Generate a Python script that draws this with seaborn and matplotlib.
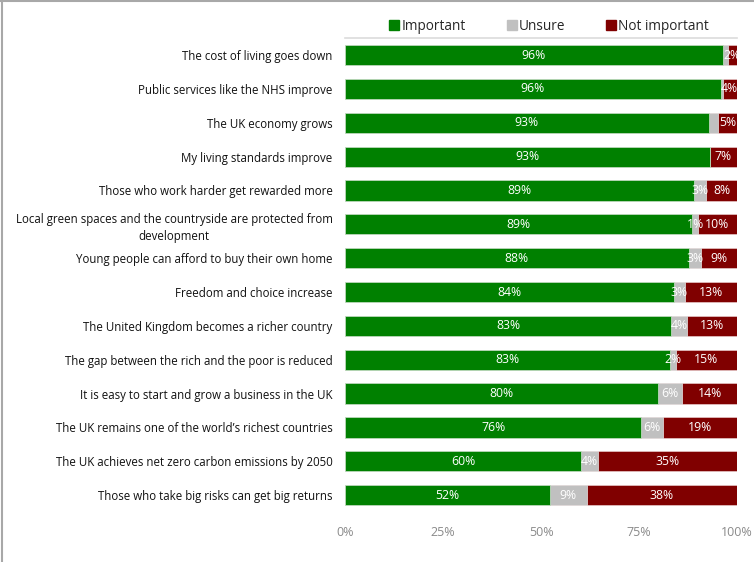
import matplotlib
matplotlib.use("Agg")
import matplotlib.pyplot as plt
from matplotlib.lines import Line2D
import seaborn as sns
import pandas as pd

statements = [
    "The cost of living goes down",
    "Public services like the NHS improve",
    "The UK economy grows",
    "My living standards improve",
    "Those who work harder get rewarded more",
    "Local green spaces and the countryside are protected from\ndevelopment",
    "Young people can afford to buy their own home",
    "Freedom and choice increase",
    "The United Kingdom becomes a richer country",
    "The gap between the rich and the poor is reduced",
    "It is easy to start and grow a business in the UK",
    "The UK remains one of the world\u2019s richest countries",
    "The UK achieves net zero carbon emissions by 2050",
    "Those who take big risks can get big returns",
]
important = [96.3, 95.8, 92.8, 93.0, 89.0, 88.6, 87.7, 84.0, 83.2, 82.8, 79.9, 75.6, 60.2, 52.3]
unsure = [1.3, 0.5, 2.4, 0.0, 3.1, 1.4, 3.0, 2.6, 4.0, 1.7, 6.1, 5.6, 4.3, 9.3]
not_important = [2.4, 3.7, 4.8, 7.0, 7.9, 10.0, 9.3, 13.4, 12.8, 15.4, 14.0, 18.8, 35.4, 38.4]
# rows whose "Unsure" segment carries no value label
unsure_unlabelled = [0, 1, 2, 3]

tick_values = [0, 25, 50, 75, 100]
series = ["Important", "Unsure", "Not important"]
colors = {"Important": "#008000", "Unsure": "#c0c0c0", "Not important": "#800000"}

df = pd.DataFrame({
    "statement": statements,
    "Important": important,
    "Unsure": unsure,
    "Not important": not_important,
})
df["imp_uns"] = df["Important"] + df["Unsure"]
df["total"] = df["imp_uns"] + df["Not important"]

sns.set_theme(style="white")
plt.rcParams["font.family"] = ["Open Sans", "DejaVu Sans"]

fig = plt.figure(figsize=(7.54, 5.62), dpi=100)
ax = fig.add_axes([0.4576, 0.089, 0.5199, 0.843])

# stacked bars: draw cumulative totals back to front
bw = 0.6
sns.barplot(data=df, y="statement", x="total", color=colors["Not important"],
            orient="h", width=bw, ax=ax, saturation=1, edgecolor="#e6c8c8", linewidth=0.5)
sns.barplot(data=df, y="statement", x="imp_uns", color=colors["Unsure"],
            orient="h", width=bw, ax=ax, saturation=1, edgecolor="#e8e8e8", linewidth=0.5)
sns.barplot(data=df, y="statement", x="Important", color=colors["Important"],
            orient="h", width=bw, ax=ax, saturation=1, edgecolor="#cfe5cf", linewidth=0.5)

lab_kw = dict(color="white", fontsize=8.8, ha="center", va="center")
for i, row in df.iterrows():
    ax.text(row["Important"] / 2, i, f"{row['Important']:.0f}%", **lab_kw)
    if i not in unsure_unlabelled and row["Unsure"] > 0:
        ax.text(row["Important"] + row["Unsure"] / 2, i, f"{row['Unsure']:.0f}%", **lab_kw)
    ax.text(row["imp_uns"] + row["Not important"] / 2, i, f"{row['Not important']:.0f}%", **lab_kw)

ax.set_xlim(0, 100)
ax.set_ylim(len(statements) - 0.5, -0.5)
ax.set_xticks(tick_values)
ax.set_xticklabels([f"{v}%" for v in tick_values], color="#8a8a8a", fontsize=9)
ax.set_xlabel("")
ax.set_ylabel("")
ax.tick_params(axis="x", length=0, pad=10)
ax.tick_params(axis="y", length=0, pad=9)
for t in ax.get_yticklabels():
    t.set_fontsize(8.3)
    t.set_color("#111111")
    t.set_multialignment("center")
    t.set_linespacing(1.45)

for side in ["left", "right", "bottom"]:
    ax.spines[side].set_visible(False)
ax.spines["top"].set_color("#dcdcdc")
ax.spines["top"].set_linewidth(1.2)

handles = [Line2D([0], [0], marker="s", linestyle="none", markersize=6.5,
                  markerfacecolor=colors[s], markeredgecolor=colors[s]) for s in series]
ax.legend(handles, series, loc="center", bbox_to_anchor=(0.52, 1.025), ncol=3,
          frameon=False, fontsize=9.8, handletextpad=0.1, columnspacing=3.0,
          handlelength=0.8, borderaxespad=0, borderpad=0)

# panel frame along top and left edge
fig.add_artist(Line2D([0, 1], [0.998, 0.998], color="#a8a8a8", lw=1.5, transform=fig.transFigure))
fig.add_artist(Line2D([0.003, 0.003], [0, 1], color="#a8a8a8", lw=1.5, transform=fig.transFigure))

fig.savefig("out.png", dpi=100)
